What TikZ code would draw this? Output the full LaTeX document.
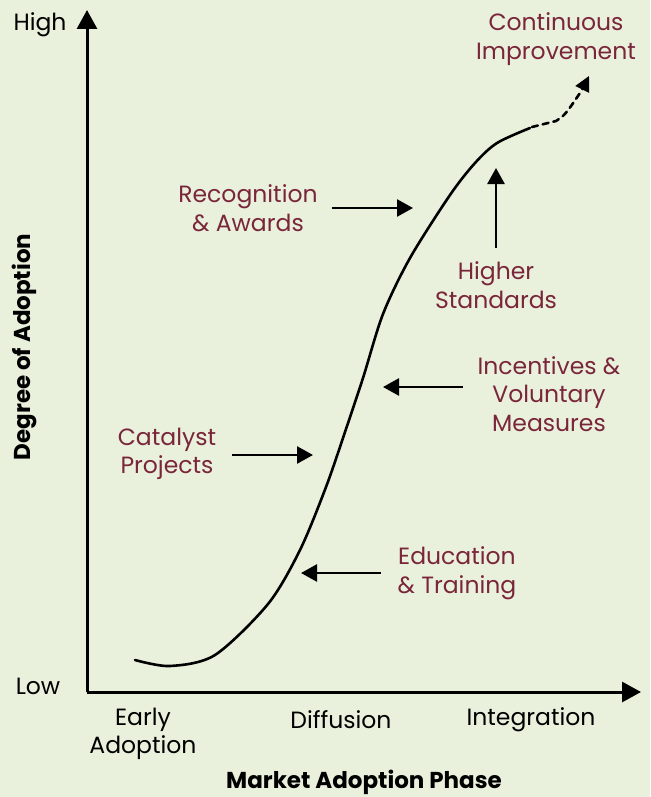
\documentclass[tikz,border=0pt]{standalone}
\usepackage{fontspec}
\setmainfont{Poppins}
\usetikzlibrary{arrows.meta}
\definecolor{bg}{RGB}{233,240,220}
\definecolor{lbl}{RGB}{122,38,58}
\begin{document}
\begin{tikzpicture}[x=1pt,y=-1pt,
  lab/.style={text=lbl,font=\fontsize{23.5}{28.5}\selectfont,align=center,inner sep=0pt},
  axlab/.style={text=black,font=\fontsize{23.5}{28.5}\selectfont,align=center,inner sep=0pt},
  axtitle/.style={text=black,font=\bfseries\fontsize{23}{24}\selectfont,inner sep=0pt},
  axis/.style={line width=3pt,-{Triangle[length=19pt,width=20pt]}},
  pointer/.style={line width=2.6pt,-{Triangle[length=16pt,width=17pt]}},
  curve/.style={line width=2.6pt,line cap=round}]
\fill[bg] (0,0) rectangle (650,797);
\useasboundingbox (0,0) rectangle (650,797);
% axes
\coordinate (O) at (87,692);
\coordinate (ytip) at (87,10);
\coordinate (xtip) at (641,692);
\draw[axis] (O) -- (ytip);
\draw[axis] (O) -- (xtip);
\node[axlab] (high) at (40,25) {High};
\node[axlab] (low) at (38,686) {Low};
\node[axtitle,rotate=90] (ytitle) at (24,347) {Degree of Adoption};
\node[axlab] (early) at (143,734) {Early\\Adoption};
\node[axlab] (diff) at (341,720) {Diffusion};
\node[axlab] (integ) at (531,720) {Integration};
\node[axtitle] (xtitle) at (364,782) {Market Adoption Phase};
% curve
\draw[curve] plot[smooth,tension=0.5] coordinates {(135,660) (170,666) (215,655) (268,604) (300,550) (326,487) (345,432) (363,378) (383,314) (410,258) (450,195) (475,163) (497,143) (530,128)};
\draw[curve,dash pattern=on 6pt off 5pt] (532,127) -- (556,121) .. controls (565,115) .. (580,93);
\draw[line width=2pt,-{Triangle[length=15pt,width=15pt]}] (582,90) -- (589,76);
% labels
\node[lab] (ci) at (556,39) {Continuous\\Improvement};
\node[lab] (ra) at (248,208) {Recognition\\\& Awards};
\node[lab] (hs) at (496,285) {Higher\\Standards};
\node[lab] (ivm) at (549,394) {Incentives \&\\Voluntary\\Measures};
\node[lab] (cp) at (167,454) {Catalyst\\Projects};
\node[lab] (et) at (457,573) {Education\\\& Training};
% pointers
\coordinate (ra1) at (332,208); \coordinate (ra2) at (413,208);
\coordinate (hs1) at (496,248); \coordinate (hs2) at (496,168);
\coordinate (iv1) at (463,387); \coordinate (iv2) at (383,387);
\coordinate (cp1) at (232,455); \coordinate (cp2) at (313,455);
\coordinate (et1) at (381,573); \coordinate (et2) at (301,573);
\draw[pointer] (ra1) -- (ra2);
\draw[pointer] (hs1) -- (hs2);
\draw[pointer] (iv1) -- (iv2);
\draw[pointer] (cp1) -- (cp2);
\draw[pointer] (et1) -- (et2);
\end{tikzpicture}
\end{document}
